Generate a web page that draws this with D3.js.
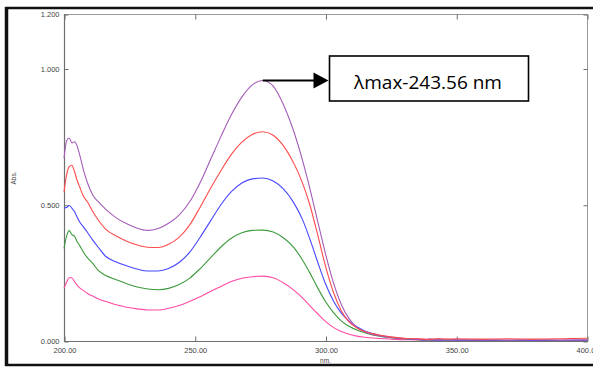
<!DOCTYPE html>
<html>
<head>
<meta charset="utf-8">
<script src="https://cdn.jsdelivr.net/npm/d3@7"></script>
<style>
  html, body { margin: 0; padding: 0; background: #fff; }
  svg { display: block; }
</style>
</head>
<body>
<svg id="chart" width="593" height="367"></svg>
<script>
// Wavelength grid (nm) shared by all spectra
const wavelengths = [200, 201, 202, 203, 204, 205, 206, 207.5, 209, 211, 213, 216, 220, 224, 228, 232, 236, 240, 244, 248, 252, 256, 260, 264, 268, 272, 276, 280, 284, 288, 291, 294, 297, 300, 303, 306, 309, 312, 315, 318, 321, 325, 330, 335, 338, 340, 343, 346, 350, 360, 370, 380, 390, 400];

// Absorbance of each spectrum on the grid above
const absPurple = [0.67, 0.735, 0.745, 0.727, 0.731, 0.716, 0.683, 0.625, 0.58, 0.536, 0.512, 0.483, 0.452, 0.43, 0.414, 0.406, 0.413, 0.432, 0.462, 0.51, 0.58, 0.665, 0.75, 0.83, 0.895, 0.94, 0.956, 0.935, 0.865, 0.765, 0.67, 0.56, 0.44, 0.32, 0.215, 0.135, 0.082, 0.05, 0.034, 0.024, 0.018, 0.013, 0.009, 0.007, 0.005, 0.008, 0.004, 0.006, 0.004, 0.004, 0.003, 0.004, 0.003, 0.004];
const absRed = [0.547, 0.61, 0.64, 0.645, 0.622, 0.59, 0.565, 0.53, 0.51, 0.475, 0.445, 0.41, 0.385, 0.366, 0.352, 0.344, 0.343, 0.355, 0.38, 0.425, 0.49, 0.56, 0.625, 0.685, 0.73, 0.758, 0.768, 0.755, 0.715, 0.65, 0.585, 0.5, 0.39, 0.275, 0.18, 0.112, 0.07, 0.048, 0.035, 0.027, 0.021, 0.015, 0.01, 0.008, 0.007, 0.006, 0.009, 0.007, 0.008, 0.007, 0.008, 0.007, 0.008, 0.01];
const absBlue = [0.488, 0.49, 0.497, 0.488, 0.475, 0.455, 0.437, 0.418, 0.398, 0.37, 0.345, 0.31, 0.29, 0.276, 0.264, 0.257, 0.257, 0.266, 0.288, 0.325, 0.38, 0.44, 0.5, 0.548, 0.58, 0.595, 0.598, 0.587, 0.557, 0.505, 0.45, 0.375, 0.29, 0.21, 0.148, 0.103, 0.073, 0.052, 0.037, 0.027, 0.02, 0.014, 0.009, 0.006, 0.004, 0.005, 0.003, 0.004, 0.003, 0.003, 0.003, 0.002, 0.003, 0.003];
const absGreen = [0.34, 0.385, 0.405, 0.39, 0.385, 0.365, 0.35, 0.325, 0.305, 0.285, 0.26, 0.24, 0.225, 0.21, 0.198, 0.191, 0.188, 0.193, 0.207, 0.23, 0.265, 0.305, 0.345, 0.377, 0.397, 0.406, 0.407, 0.4, 0.378, 0.342, 0.3, 0.25, 0.195, 0.145, 0.105, 0.074, 0.054, 0.04, 0.03, 0.022, 0.017, 0.012, 0.008, 0.005, 0.004, 0.004, 0.003, 0.004, 0.003, 0.003, 0.002, 0.003, 0.002, 0.003];
const absPink = [0.194, 0.216, 0.232, 0.232, 0.218, 0.205, 0.195, 0.185, 0.174, 0.165, 0.155, 0.145, 0.133, 0.124, 0.118, 0.114, 0.114, 0.12, 0.13, 0.145, 0.162, 0.182, 0.2, 0.218, 0.23, 0.236, 0.238, 0.232, 0.213, 0.186, 0.16, 0.13, 0.1, 0.072, 0.05, 0.035, 0.025, 0.018, 0.014, 0.011, 0.009, 0.007, 0.005, 0.004, 0.003, 0.003, 0.003, 0.004, 0.003, 0.002, 0.003, 0.002, 0.003, 0.003];

// Axis ticks
const xTicks = [200, 250, 300, 350, 400];
const yTicks = [0, 0.5, 1.0, 1.2];

const annotationText = "λmax-243.56 nm";

const seriesList = [
  { name: "pink",   color: "#ff4aa4", values: absPink },
  { name: "green",  color: "#3d9a3d", values: absGreen },
  { name: "blue",   color: "#4646ff", values: absBlue },
  { name: "purple", color: "#a45cb8", values: absPurple },
  { name: "red",    color: "#ff4a4a", values: absRed }
];

const svg = d3.select("#chart");
const W = 593, H = 367;
const plot = { left: 64, right: 587, top: 14, bottom: 341 };

const x = d3.scaleLinear().domain([200, 400]).range([plot.left, plot.right]);
const y = d3.scaleLinear().domain([0, 1.2]).range([plot.bottom, plot.top]);

// Outer frame
svg.append("rect")
  .attr("x", 6.5).attr("y", 8).attr("width", W + 10).attr("height", 357)
  .attr("fill", "none").attr("stroke", "#111").attr("stroke-width", 2.5);
svg.append("line")
  .attr("x1", 6.5).attr("x2", 6.5).attr("y1", 7).attr("y2", 366)
  .attr("stroke", "#111").attr("stroke-width", 3.5);

// Plot frame
const frame = svg.append("g");
frame.append("rect")
  .attr("x", plot.left + 0.5).attr("y", plot.top + 0.5)
  .attr("width", plot.right - plot.left).attr("height", plot.bottom - plot.top)
  .attr("fill", "none").attr("stroke", "#9a9a9a").attr("stroke-width", 1);
frame.append("line")
  .attr("x1", plot.left + 0.5).attr("x2", plot.left + 0.5)
  .attr("y1", plot.top).attr("y2", plot.bottom + 1)
  .attr("stroke", "#6f6f6f").attr("stroke-width", 1.2);
frame.append("line")
  .attr("x1", plot.left).attr("x2", plot.right + 1)
  .attr("y1", plot.bottom + 0.5).attr("y2", plot.bottom + 0.5)
  .attr("stroke", "#6f6f6f").attr("stroke-width", 1.2);

// Axes with inward ticks on all four sides
const tickFont = "Liberation Sans, Arial, sans-serif";
const axB = svg.append("g").attr("transform", `translate(0.5,${plot.bottom + 0.5})`)
  .call(d3.axisBottom(x).tickValues(xTicks).tickSizeInner(-5).tickSizeOuter(0).tickPadding(9).tickFormat(d3.format(".2f")));
const axL = svg.append("g").attr("transform", `translate(${plot.left + 0.5},0.5)`)
  .call(d3.axisLeft(y).tickValues(yTicks).tickSizeInner(-4).tickSizeOuter(0).tickPadding(5).tickFormat(d3.format(".3f")));
const axT = svg.append("g").attr("transform", `translate(0.5,${plot.top + 0.5})`)
  .call(d3.axisTop(x).tickValues(xTicks).tickSizeInner(-5).tickSizeOuter(0).tickFormat(""));
const axR = svg.append("g").attr("transform", `translate(${plot.right + 0.5},0.5)`)
  .call(d3.axisRight(y).tickValues(yTicks).tickSizeInner(-4).tickSizeOuter(0).tickFormat(""));
[axB, axL, axT, axR].forEach(a => {
  a.select(".domain").remove();
  a.selectAll(".tick line").attr("stroke", "#6f6f6f");
  a.selectAll(".tick text").attr("fill", "#444").attr("font-family", tickFont).attr("font-size", 7.5);
});
axB.selectAll(".tick text").attr("dy", "0.35em");

// Axis titles
svg.append("text").attr("x", x(300)).attr("y", 363)
  .attr("text-anchor", "middle").attr("font-family", tickFont).attr("font-size", 6.5).attr("fill", "#444")
  .text("nm.");
svg.append("text").attr("transform", `translate(16,178) rotate(-90)`)
  .attr("text-anchor", "middle").attr("font-family", tickFont).attr("font-size", 6.5).attr("fill", "#444")
  .text("Abs.");

// Spectra
const line = d3.line()
  .x((d, i) => x(wavelengths[i]))
  .y(d => y(d))
  .curve(d3.curveMonotoneX);

svg.append("g").selectAll("path")
  .data(seriesList)
  .join("path")
  .attr("d", s => line(s.values))
  .attr("fill", "none")
  .attr("stroke", s => s.color)
  .attr("stroke-width", 1.1);

// Annotation at the maximum of the top spectrum
const peakIdx = d3.maxIndex(absPurple);
const px = x(wavelengths[peakIdx]), py = y(absPurple[peakIdx]);
const box = { x: 329.5, y: 56, w: 199, h: 45 };
const ay = Math.round(py) + 0.5;

svg.append("line")
  .attr("x1", px).attr("x2", box.x - 14).attr("y1", ay).attr("y2", ay)
  .attr("stroke", "#000").attr("stroke-width", 2);
svg.append("path")
  .attr("d", `M${box.x - 16},${ay - 8} L${box.x - 1},${ay} L${box.x - 16},${ay + 8} Z`)
  .attr("fill", "#000");
svg.append("rect")
  .attr("x", box.x).attr("y", box.y).attr("width", box.w).attr("height", box.h)
  .attr("fill", "#fff").attr("stroke", "#000").attr("stroke-width", 1.6);
svg.append("text")
  .attr("x", box.x + box.w / 2 - 1).attr("y", box.y + 33)
  .attr("text-anchor", "middle")
  .attr("font-family", "Open Sans, Noto Sans, sans-serif").attr("font-size", 19).attr("fill", "#000")
  .text(annotationText);
</script>
</body>
</html>
